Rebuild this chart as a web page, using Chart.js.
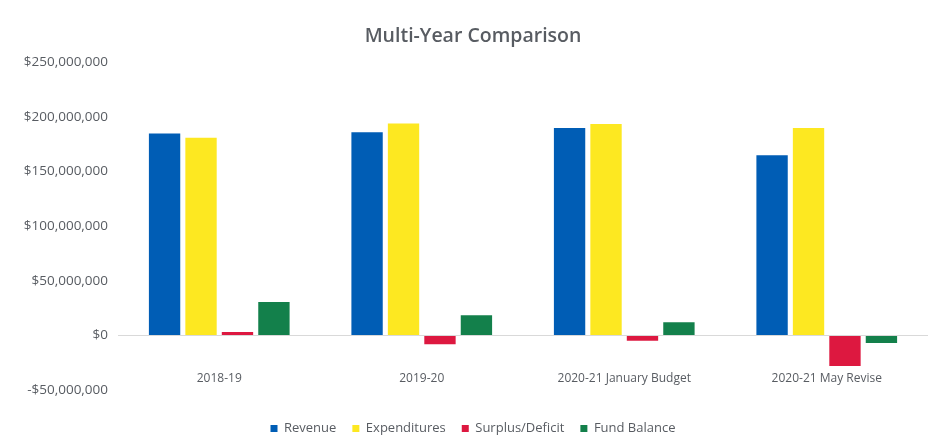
<!DOCTYPE html>
<html>
<head>
<meta charset="utf-8">
<script src="https://cdn.jsdelivr.net/npm/chart.js@4/dist/chart.umd.min.js"></script>
<style>
  html, body { margin: 0; padding: 0; background: #fff; }
  #wrap { width: 932px; height: 448px; }
</style>
</head>
<body>
<div id="wrap"><canvas id="multiYear"></canvas></div>
<script>
const categories = ['2018-19', '2019-20', '2020-21 January Budget', '2020-21 May Revise'];
const revenue = [185000000, 186000000, 190000000, 165000000];
const expenditures = [181000000, 194000000, 193500000, 190000000];
const surplusDeficit = [3000000, -8000000, -5000000, -28000000];
const fundBalance = [30500000, 18500000, 12000000, -7000000];
const yTicks = [-50000000, 0, 50000000, 100000000, 150000000, 200000000, 250000000];

const fmt = v => (v < 0 ? '-$' : '$') + Math.abs(v).toLocaleString('en-US');
const textGrey = '#585c62';

const ctx = document.getElementById('multiYear').getContext('2d');

new Chart(ctx, {
    type: 'bar',
    data: {
        labels: categories,
        datasets: [
            { label: 'Revenue', data: revenue, backgroundColor: '#005DB5' },
            { label: 'Expenditures', data: expenditures, backgroundColor: '#FDE821' },
            { label: 'Surplus/Deficit', data: surplusDeficit, backgroundColor: '#DD1840' },
            { label: 'Fund Balance', data: fundBalance, backgroundColor: '#13804B' },
        ]
    },
    options: {
        responsive: true,
        maintainAspectRatio: false,
        animation: false,
        datasets: {
            bar: { categoryPercentage: 0.72, barPercentage: 0.86 }
        },
        layout: { padding: { left: 18, right: 4, top: 6, bottom: 3 } },
        plugins: {
            title: {
                display: true,
                text: 'Multi-Year Comparison',
                color: textGrey,
                font: { family: 'Open Sans', size: 19.5, weight: '600' },
                padding: { top: 19, bottom: 14 }
            },
            legend: {
                position: 'bottom',
                labels: {
                    boxWidth: 7,
                    boxHeight: 7,
                    padding: 16,
                    color: textGrey,
                    font: { family: 'Open Sans', size: 13 }
                }
            },
            tooltip: { enabled: false }
        },
        scales: {
            // category labels sit inside the plot, just above the -$50M line
            x: {
                position: { y: -33000000 },
                grid: { display: false, drawTicks: false },
                border: { display: false },
                ticks: { color: textGrey, font: { family: 'Open Sans', size: 12 }, padding: 0 }
            },
            // empty spacer between plot and legend
            gap: {
                type: 'category',
                position: 'bottom',
                grid: { display: false, drawTicks: false },
                border: { display: false },
                ticks: { display: false },
                afterFit: scale => { scale.height = 16; }
            },
            y: {
                min: -50000000,
                max: 250000000,
                afterBuildTicks: axis => { axis.ticks = yTicks.map(v => ({ value: v })); },
                afterFit: scale => { scale.width = 100; },
                border: { display: false },
                grid: {
                    drawTicks: false,
                    color: c => c.tick && c.tick.value === 0 ? '#d9d9d9' : 'rgba(0,0,0,0)'
                },
                ticks: {
                    color: textGrey,
                    font: { family: 'Open Sans', size: 13.5 },
                    padding: 10,
                    callback: v => fmt(v)
                }
            }
        }
    }
});
</script>
</body>
</html>
